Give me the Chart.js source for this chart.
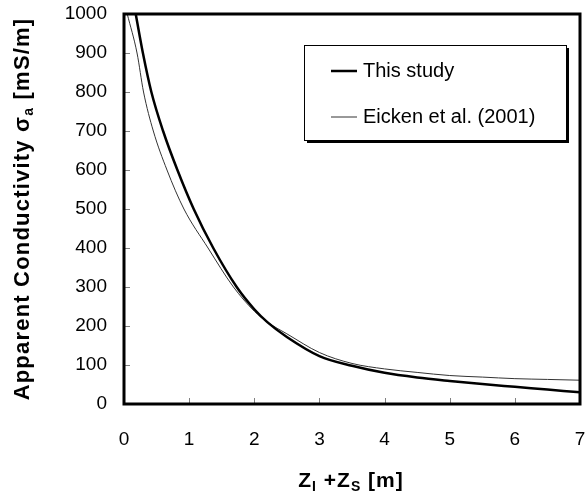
<!DOCTYPE html>
<html>
<head>
<meta charset="utf-8">
<script src="https://cdn.jsdelivr.net/npm/chart.js@4.4.1/dist/chart.umd.min.js"></script>
<style>
  html, body { margin: 0; padding: 0; background: #fff; }
  #wrap { width: 588px; height: 497px; }
</style>
</head>
<body>
<div id="wrap"><canvas id="graph1"></canvas></div>
<script>
// apparent conductivity vs. ice + snow thickness
const studyZ = [0.18, 0.29, 0.42, 0.6, 0.82, 1.07, 1.37, 1.73, 2.0, 2.2, 2.5, 3.0, 3.5, 4.0, 4.5, 5.0, 5.5, 6.0, 6.5, 7.0];
const studySigma = [1000, 900, 800, 700, 600, 500, 400, 300, 243, 210, 172, 123, 98, 80, 68, 59, 51, 44, 37, 30];

const eickenZ = [0.05, 0.2, 0.3, 0.45, 0.66, 0.92, 1.29, 1.68, 2.0, 2.2, 2.5, 3.0, 3.5, 4.0, 4.5, 5.0, 5.5, 6.0, 6.5, 7.0];
const eickenSigma = [1000, 900, 800, 700, 600, 500, 400, 300, 238, 210, 180, 132, 104, 90, 81, 73, 69, 65, 63, 61];

const seriesNames = ['This study', 'Eicken et al. (2001)'];

const FONT = 'Arial, "Liberation Sans", sans-serif';

const toPoints = (xs, ys) => xs.map((x, i) => ({x: x, y: ys[i]}));

// draws a line of text made of runs, some of them lowered as subscripts
function drawRuns(ctx, runs, x, y) {
    let total = 0;
    runs.forEach(r => {
        ctx.font = r.font;
        r.w = ctx.measureText(r.t).width;
        total += r.w;
    });
    let cx = x - total / 2;
    runs.forEach(r => {
        ctx.font = r.font;
        ctx.fillText(r.t, cx, y + (r.dy || 0));
        cx += r.w;
    });
}

const decorations = {
    id: 'decorations',
    afterDraw(chart) {
        const {ctx, chartArea: a, scales} = chart;
        ctx.save();

        // short grey ticks pointing into the plot
        ctx.strokeStyle = '#808080';
        ctx.lineWidth = 1;
        ctx.beginPath();
        scales.x.ticks.forEach(t => {
            const px = Math.round(scales.x.getPixelForValue(t.value)) + 0.5;
            ctx.moveTo(px, a.bottom);
            ctx.lineTo(px, a.bottom - 6);
        });
        scales.y.ticks.forEach(t => {
            const py = Math.round(scales.y.getPixelForValue(t.value)) + 0.5;
            ctx.moveTo(a.left, py);
            ctx.lineTo(a.left + 6, py);
        });
        ctx.stroke();

        // plot frame
        ctx.strokeStyle = '#000';
        ctx.lineWidth = 3;
        ctx.strokeRect(a.left, a.top, a.width, a.height);

        // legend box with drop shadow
        const bx = 304, by = 45, bw = 262, bh = 95;
        ctx.fillStyle = '#000';
        ctx.fillRect(bx + 3, by + 3, bw, bh);
        ctx.fillStyle = '#fff';
        ctx.fillRect(bx, by, bw, bh);
        ctx.lineWidth = 1;
        ctx.strokeRect(bx + 0.5, by + 0.5, bw, bh);

        ctx.textBaseline = 'middle';
        ctx.textAlign = 'left';
        ctx.font = '20px ' + FONT;
        chart.data.datasets.forEach((ds, i) => {
            const ly = 71 + i * 46;
            ctx.strokeStyle = ds.borderColor;
            ctx.lineWidth = ds.borderWidth;
            ctx.beginPath();
            ctx.moveTo(331, ly);
            ctx.lineTo(357, ly);
            ctx.stroke();
            ctx.fillStyle = '#000';
            ctx.fillText(ds.label, 363, ly);
        });

        // axis titles
        ctx.fillStyle = '#000';
        ctx.textBaseline = 'alphabetic';
        ctx.letterSpacing = '1px';
        drawRuns(ctx, [
            {t: 'Z', font: 'bold 21px ' + FONT},
            {t: 'I', font: 'bold 14px ' + FONT, dy: 4},
            {t: ' +Z', font: 'bold 21px ' + FONT},
            {t: 'S', font: 'bold 14px ' + FONT, dy: 4},
            {t: ' [m]', font: 'bold 21px ' + FONT}
        ], 351, 487);

        ctx.letterSpacing = '1.2px';
        ctx.translate(29, 209);
        ctx.rotate(-Math.PI / 2);
        drawRuns(ctx, [
            {t: 'Apparent Conductivity \u03c3', font: 'bold 22px ' + FONT},
            {t: 'a', font: 'bold 14px ' + FONT, dy: 4},
            {t: ' [mS/m]', font: 'bold 22px ' + FONT}
        ], 0, 0);

        ctx.restore();
    }
};

const config = {
    type: 'scatter',
    data: {
        datasets: [
            {
                label: seriesNames[0],
                data: toPoints(studyZ, studySigma),
                borderColor: '#000',
                borderWidth: 2.5,
            },
            {
                label: seriesNames[1],
                data: toPoints(eickenZ, eickenSigma),
                borderColor: '#333',
                borderWidth: 1,
            }
        ]
    },
    options: {
        responsive: true,
        maintainAspectRatio: false,
        animation: false,
        showLine: true,
        elements: {
            point: { radius: 0, hoverRadius: 0 },
            line: { cubicInterpolationMode: 'monotone' }
        },
        layout: {
            padding: { top: 14, right: 8, left: 0, bottom: 0 }
        },
        scales: {
            x: {
                type: 'linear',
                min: 0,
                max: 7,
                grid: { display: false, drawTicks: false },
                border: { display: false },
                ticks: {
                    stepSize: 1,
                    padding: 24,
                    color: '#000',
                    font: { family: FONT, size: 19 }
                },
                afterFit: scale => {
                    scale.height = 93;
                    scale.paddingLeft = 0;
                    scale.paddingRight = 0;
                }
            },
            y: {
                min: 0,
                max: 1000,
                grid: { display: false, drawTicks: false },
                border: { display: false },
                ticks: {
                    stepSize: 100,
                    padding: 17,
                    color: '#000',
                    font: { family: FONT, size: 19 },
                    callback: value => String(value) // no thousands separator
                },
                afterFit: scale => {
                    scale.width = 124;
                    scale.paddingTop = 0;
                    scale.paddingBottom = 0;
                }
            }
        },
        plugins: {
            legend: { display: false },
            tooltip: { enabled: false }
        }
    },
    plugins: [decorations]
};

const myChart = new Chart(
    document.getElementById('graph1'),
    config
);
</script>
</body>
</html>
